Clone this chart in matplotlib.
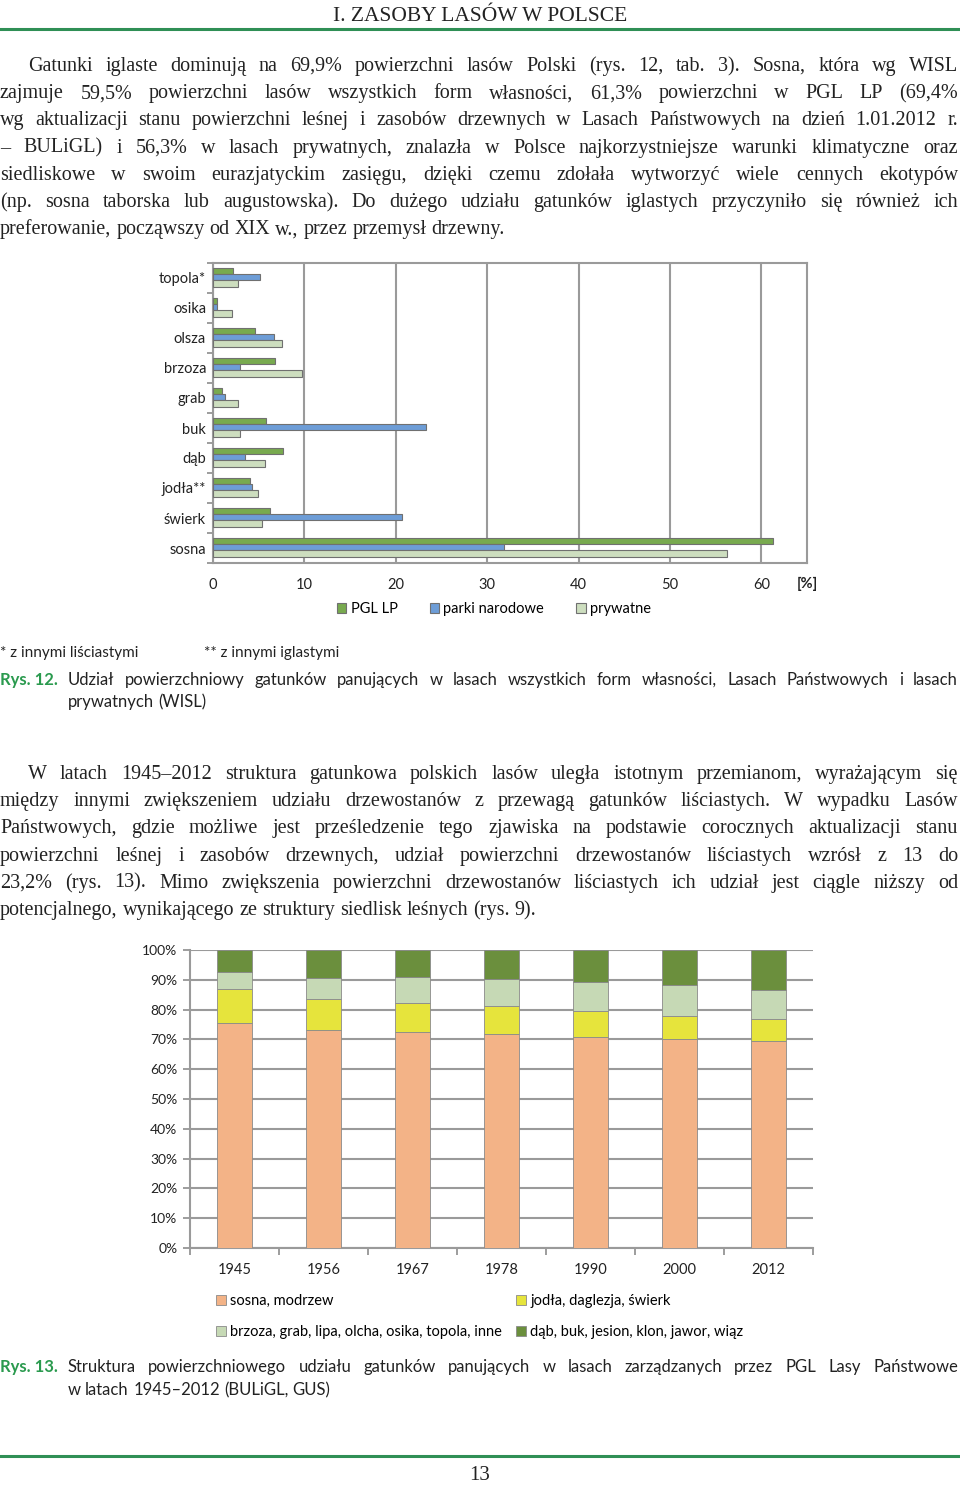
import numpy as np
import matplotlib
matplotlib.use("Agg")
import matplotlib.pyplot as plt

W, H = 960, 1486

# rys. 12 - udzial powierzchniowy gatunkow (%)
species = ["topola*", "osika", "olsza", "brzoza", "grab", "buk", "dąb", "jodła**", "świerk", "sosna"]
pgl_lp = [2.2, 0.4, 4.6, 6.8, 1.0, 5.8, 7.7, 4.0, 6.2, 61.3]
parki = [5.1, 0.4, 6.7, 3.0, 1.3, 23.3, 3.5, 4.3, 20.7, 31.8]
prywatne = [2.7, 2.1, 7.6, 9.7, 2.7, 2.9, 5.7, 4.9, 5.4, 56.3]
owners = ["PGL LP", "parki narodowe", "prywatne"]
x_ticks1 = [0, 10, 20, 30, 40, 50, 60]

# rys. 13 - struktura udzialu gatunkow w PGL LP (%)
years = ["1945", "1956", "1967", "1978", "1990", "2000", "2012"]
sosna_modrzew = [75.6, 73.2, 72.5, 71.7, 70.9, 70.2, 69.4]
jodla_swierk = [11.3, 10.4, 9.7, 9.4, 8.5, 7.6, 7.4]
brzoza_inne = [5.6, 6.9, 8.6, 9.2, 9.7, 10.4, 9.8]
dab_buk = [7.5, 9.5, 9.2, 9.7, 10.9, 11.8, 13.4]
groups2 = ["sosna, modrzew", "jodła, daglezja, świerk",
           "brzoza, grab, lipa, olcha, osika, topola, inne",
           "dąb, buk, jesion, klon, jawor, wiąz"]

par1 = [
    "Gatunki iglaste dominują na 69,9% powierzchni lasów Polski (rys. 12, tab. 3). Sosna, która wg WISL",
    "zajmuje 59,5% powierzchni lasów wszystkich form własności, 61,3% powierzchni w PGL LP (69,4%",
    "wg aktualizacji stanu powierzchni leśnej i zasobów drzewnych w Lasach Państwowych na dzień 1.01.2012 r.",
    "– BULiGL) i 56,3% w lasach prywatnych, znalazła w Polsce najkorzystniejsze warunki klimatyczne oraz",
    "siedliskowe w swoim eurazjatyckim zasięgu, dzięki czemu zdołała wytworzyć wiele cennych ekotypów",
    "(np. sosna taborska lub augustowska). Do dużego udziału gatunków iglastych przyczyniło się również ich",
    "preferowanie, począwszy od XIX w., przez przemysł drzewny.",
]
par2 = [
    "W latach 1945–2012 struktura gatunkowa polskich lasów uległa istotnym przemianom, wyrażającym się",
    "między innymi zwiększeniem udziału drzewostanów z przewagą gatunków liściastych. W wypadku Lasów",
    "Państwowych, gdzie możliwe jest prześledzenie tego zjawiska na podstawie corocznych aktualizacji stanu",
    "powierzchni leśnej i zasobów drzewnych, udział powierzchni drzewostanów liściastych wzrósł z 13 do",
    "23,2% (rys. 13). Mimo zwiększenia powierzchni drzewostanów liściastych ich udział jest ciągle niższy od",
    "potencjalnego, wynikającego ze struktury siedlisk leśnych (rys. 9).",
]

green_txt = "#2a9a4e"
serif = "Liberation Serif"
sans = "Lato"

fig = plt.figure(figsize=(W / 100, H / 100), dpi=100)
renderer = fig.canvas.get_renderer()


def fx(x):
    return x / W


def fy(y):
    return 1 - y / H


def put_line(text, x0, x1, y, justify, **kw):
    words = text.split(" ")
    items = [fig.text(0, 0, w, va="baseline", ha="left", **kw) for w in words]
    widths = [t.get_window_extent(renderer).width for t in items]
    a = fig.text(0, 0, "a a", **kw)
    b = fig.text(0, 0, "aa", **kw)
    space = a.get_window_extent(renderer).width - b.get_window_extent(renderer).width
    a.remove()
    b.remove()
    gap = space
    if justify and len(words) > 1:
        gap = (x1 - x0 - sum(widths)) / (len(words) - 1)
    x = x0
    for t, w in zip(items, widths):
        t.set_position((fx(x), fy(y)))
        x += w + gap


def paragraph(lines, y0, step):
    for i, line in enumerate(lines):
        x0 = 28 if i == 0 else 0
        put_line(line, x0, 958, y0 + i * step, i < len(lines) - 1,
                 family=serif, fontsize=14.5, color="#222222")


# naglowek i stopka strony
fig.text(0.5, fy(21), "I. ZASOBY LASÓW W POLSCE", ha="center", va="baseline",
         family=serif, fontsize=15.5, color="#222222")
fig.add_artist(plt.Line2D([0, 1], [fy(29), fy(29)], color="#2f8f55", lw=2.2))
fig.add_artist(plt.Line2D([0, 1], [fy(1456), fy(1456)], color="#2f8f55", lw=2.2))
fig.text(0.5, fy(1475), "13", ha="center", va="center", family=serif,
         fontsize=15, color="#222222")

paragraph(par1, 71, 27.2)
paragraph(par2, 779, 27.2)

# ---- rys. 12 ----
ax1 = fig.add_axes([fx(213), fy(563), (807 - 213) / W, 300 / H])
ypos = np.arange(len(species))
h = 0.21
colors1 = ["#78aa4f", "#6d9dd7", "#cddebf"]
for k, (vals, c) in enumerate(zip([pgl_lp, parki, prywatne], colors1)):
    ax1.barh(ypos + (k - 1) * h - 0.03, vals, height=h, color=c,
             edgecolor="#707070", linewidth=0.8, label=owners[k], zorder=3)
ax1.set_ylim(len(species) - 0.5, -0.5)
ax1.set_xlim(0, 65)
ax1.set_xticks(x_ticks1)
ax1.set_xticklabels([str(v) for v in x_ticks1])
ax1.set_yticks(ypos)
ax1.set_yticklabels(species)
ax1.set_yticks(np.arange(-0.5, len(species), 1.0), minor=True)
ax1.tick_params(axis="y", which="major", length=0, pad=5, labelsize=10.5,
                labelcolor="#222222")
ax1.tick_params(axis="y", which="minor", length=4, color="#8c8c8c", width=1.2)
ax1.tick_params(axis="x", length=0, pad=11, labelsize=10.5, labelcolor="#222222")
for lab in ax1.get_xticklabels() + ax1.get_yticklabels():
    lab.set_family(sans)
ax1.grid(axis="x", color="#9a9a9a", lw=1.5, zorder=0)
for s in ax1.spines.values():
    s.set_color("#9a9a9a")
    s.set_linewidth(1.5)
ax1.text(65, -(584 - 563) / 300, "[%]", transform=ax1.get_xaxis_transform(),
         family=sans, fontsize=10.5, fontweight="bold", ha="center", va="center",
         color="#222222")
fig.legend(loc="center", bbox_to_anchor=(fx(494), fy(609)), ncol=3,
           frameon=False, prop={"family": sans, "size": 10.5},
           handlelength=0.65, handleheight=0.65, handletextpad=0.3,
           columnspacing=2.2)

fig.text(0, fy(657), "* z innymi liściastymi", family=sans, fontsize=11,
         va="baseline", color="#222222")
fig.text(fx(204), fy(657), "** z innymi iglastymi", family=sans, fontsize=11,
         va="baseline", color="#222222")

fig.text(0, fy(685), "Rys. 12.", family=sans, fontsize=12, fontweight="bold",
         color=green_txt, va="baseline")
put_line("Udział powierzchniowy gatunków panujących w lasach wszystkich form własności, Lasach Państwowych i lasach",
         68, 958, 685, True, family=sans, fontsize=12, color="#222222")
put_line("prywatnych (WISL)", 68, 958, 707, False, family=sans, fontsize=12,
         color="#222222")

# ---- rys. 13 ----
ax2 = fig.add_axes([fx(190), fy(1248), (813 - 190) / W, 298 / H])
xpos = np.arange(len(years))
colors2 = ["#f3b387", "#e6e43c", "#c6d9b5", "#6b8f3d"]
bottom = np.zeros(len(years))
bars2 = []
for vals, c, name in zip([sosna_modrzew, jodla_swierk, brzoza_inne, dab_buk], colors2, groups2):
    b = ax2.bar(xpos, vals, 0.4, bottom=bottom, color=c, edgecolor="#8a8a8a",
                linewidth=0.6, zorder=3, label=name)
    bars2.append(b)
    bottom += np.array(vals)
ax2.set_xlim(-0.5, len(years) - 0.5)
ax2.set_ylim(0, 100)
ax2.set_yticks(np.arange(0, 101, 10))
ax2.set_yticklabels([f"{v}%" for v in range(0, 101, 10)])
ax2.set_xticks(xpos)
ax2.set_xticklabels(years)
ax2.set_xticks(np.arange(-0.5, len(years), 1.0), minor=True)
ax2.tick_params(axis="x", which="major", length=0, pad=11, labelsize=10.5,
                labelcolor="#222222")
ax2.tick_params(axis="x", which="minor", length=5, color="#8c8c8c", width=1.2)
ax2.tick_params(axis="y", length=5, color="#8c8c8c", width=1.2, pad=4,
                labelsize=10, labelcolor="#222222")
for lab in ax2.get_xticklabels() + ax2.get_yticklabels():
    lab.set_family(sans)
ax2.grid(axis="y", color="#9a9a9a", lw=1.5, zorder=0)
for side in ["top", "right"]:
    ax2.spines[side].set_visible(False)
for side in ["left", "bottom"]:
    ax2.spines[side].set_color("#9a9a9a")
    ax2.spines[side].set_linewidth(1.5)

handles = [bars2[0], bars2[2], bars2[1], bars2[3]]
labels = [groups2[0], groups2[2], groups2[1], groups2[3]]
fig.legend(handles, labels, loc="upper left", bbox_to_anchor=(fx(203), fy(1281)),
           ncol=2, frameon=False, prop={"family": sans, "size": 10.5},
           handlelength=0.65, handleheight=0.65, handletextpad=0.3,
           labelspacing=1.15, columnspacing=1.0)

fig.text(0, fy(1372), "Rys. 13.", family=sans, fontsize=12, fontweight="bold",
         color=green_txt, va="baseline")
put_line("Struktura powierzchniowego udziału gatunków panujących w lasach zarządzanych przez PGL Lasy Państwowe",
         68, 958, 1372, True, family=sans, fontsize=12, color="#222222")
put_line("w latach 1945–2012 (BULiGL, GUS)", 68, 958, 1395, False, family=sans,
         fontsize=12, color="#222222")

fig.savefig("out.png", dpi=100)
